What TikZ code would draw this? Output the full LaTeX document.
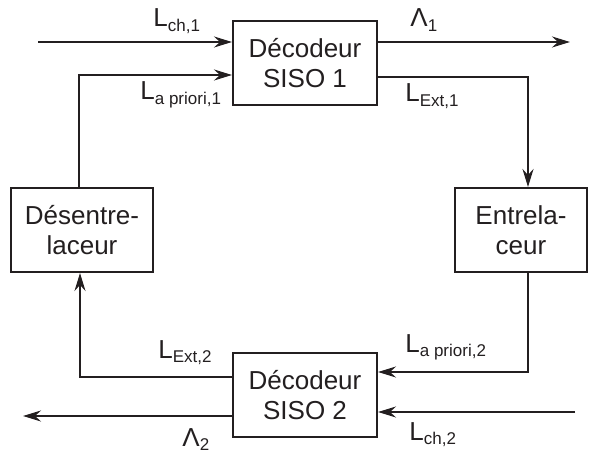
\documentclass[tikz,border=0pt]{standalone}
\usepackage{fontspec}
\setmainfont{Liberation Sans}
\usetikzlibrary{arrows.meta,positioning}
\definecolor{linegray}{HTML}{231F20}
\tikzset{
  blockbox/.style={draw=linegray,line width=1pt,fill=white,align=center,inner sep=0pt,
    minimum height=42pt,text=linegray,font=\fontsize{13pt}{15pt}\selectfont},
  sigline/.style={-{Stealth[length=9pt,width=5.5pt,inset=3pt]},line width=1pt,draw=linegray},
  siglabel/.style={anchor=base west,inner sep=0pt,text=linegray,font=\fontsize{13pt}{15pt}\selectfont}
}
\newcommand{\sig}[2]{#1\raisebox{-2.2pt}{\fontsize{8.5pt}{10pt}\selectfont #2}}

\begin{document}
\begin{tikzpicture}[x=0.5pt,y=-0.5pt]
  \useasboundingbox (0,0) rectangle (589,454);
  \node[blockbox,minimum width=72pt] (dec1) at (305,63.5) {Décodeur\\SISO 1};
  \node[blockbox,minimum width=72pt] (dec2) at (305,395) {Décodeur\\SISO 2};
  \node[blockbox,minimum width=71pt] (desent) at (82,230) {Désentre-\\laceur};
  \node[blockbox,minimum width=66pt] (entrel) at (521,230) {Entrela-\\ceur};
  \coordinate (in1) at (38,42);
  \coordinate (out1) at (570,42);
  \coordinate (ap1) at (79,75);
  \coordinate (ext1) at (528,77);
  \coordinate (ap2) at (528,372);
  \coordinate (ext2) at (80,377);
  \coordinate (out2) at (23,416);
  \coordinate (in2) at (575,412);
  \draw[sigline] (in1) -- (in1 -| dec1.west);
  \draw[sigline] (dec1.east |- in1) -- (out1);
  \draw[sigline] (ap1 |- desent.north) -- (ap1) -- (ap1 -| dec1.west);
  \draw[sigline] (dec1.east |- ext1) -- (ext1) -- (ext1 |- entrel.north);
  \draw[sigline] (ap2 |- entrel.south) -- (ap2) -- (ap2 -| dec2.east);
  \draw[sigline] (dec2.west |- ext2) -- (ext2) -- (ext2 |- desent.south);
  \draw[sigline] (dec2.west |- out2) -- (out2);
  \draw[sigline] (in2) -- (in2 -| dec2.east);
  \node[siglabel] (lch1) at (153,27) {\sig{L}{ch,1}};
  \node[siglabel] (lap1) at (140,100) {\sig{L}{a priori,1}};
  \node[siglabel] (lam1) at (410,27) {\sig{Λ}{1}};
  \node[siglabel] (lext1) at (405,102) {\sig{L}{Ext,1}};
  \node[siglabel] (lext2) at (158,358) {\sig{L}{Ext,2}};
  \node[siglabel] (lam2) at (182,446) {\sig{Λ}{2}};
  \node[siglabel] (lap2) at (405,352) {\sig{L}{a priori,2}};
  \node[siglabel] (lch2) at (409,440) {\sig{L}{ch,2}};
\end{tikzpicture}
\end{document}
